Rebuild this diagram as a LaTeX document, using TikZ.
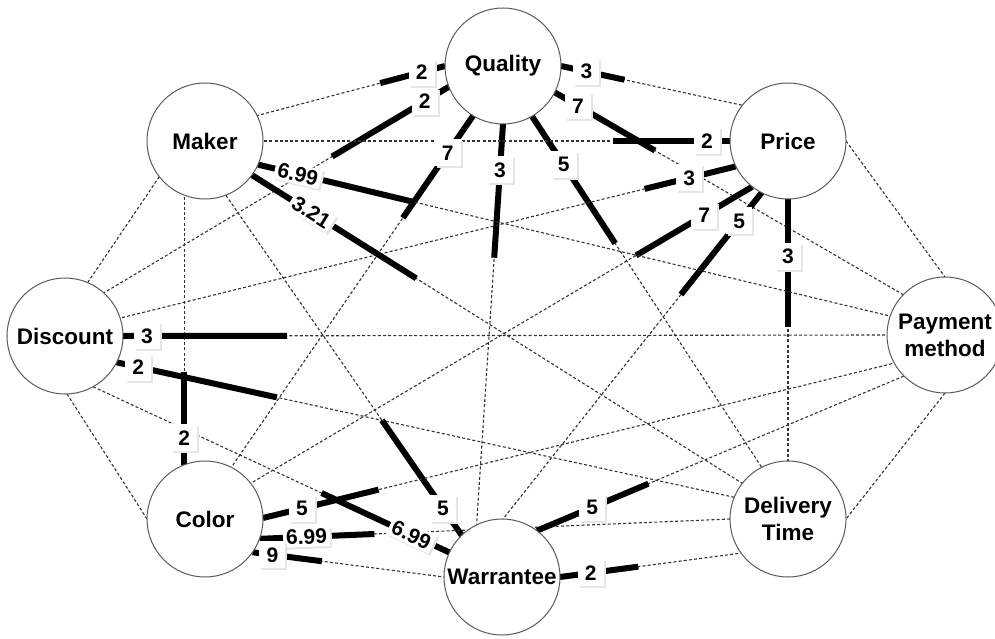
\documentclass[tikz,border=0pt]{standalone}
\usepackage{fontspec}
\setmainfont{Liberation Sans}
\usetikzlibrary{calc,shadows,backgrounds}
\tikzset{
  vtx/.style={circle, draw=black!65, line width=1pt, fill=white, minimum size=116pt,
    inner sep=0pt, outer sep=0pt, align=center,
    font=\fontsize{22.5}{27}\selectfont\bfseries},
  dashline/.style={draw=black!80, line width=1.1pt, dash pattern=on 3pt off 2.2pt},
  heavy/.style={draw=black, line width=6pt},
  lbl/.style={fill=white, font=\fontsize{21}{21}\selectfont\bfseries,
    inner xsep=5pt, inner ysep=2pt, minimum width=26pt, minimum height=27pt,
    drop shadow={shadow xshift=2pt, shadow yshift=-2pt, fill=black!10, opacity=1}},
  slbl/.style={lbl, inner xsep=3pt, inner ysep=0pt, minimum height=20pt},
}
\newcommand\plainedge[4]{%
  \begin{pgfonlayer}{background}\draw[dashline] (#1.#2) -- (#3.#4);\end{pgfonlayer}}
\newcommand\wtedge[7]{%
  \begin{pgfonlayer}{background}
    \draw[dashline] (#1.#2) -- (#3.#4);
    \draw[heavy] (#1.#2) -- ($(#1.#2)!#5pt!(#3.#4)$);
  \end{pgfonlayer}
  \node[lbl] at ($(#1.#2)!#6pt!(#3.#4)$) {#7};}
\newcommand\wtedgeS[7]{%
  \begin{pgfonlayer}{background}
    \draw[dashline] (#1.#2) -- (#3.#4);
    \draw[heavy] (#1.#2) -- ($(#1.#2)!#5pt!(#3.#4)$);
  \end{pgfonlayer}
  \path (#1.#2) -- ($(#1.#2)!#6pt!(#3.#4)$) node[slbl, sloped, midway] {#7};}
\begin{document}
\begin{tikzpicture}[x=1pt, y=-1pt]
\useasboundingbox (0,0) rectangle (995,639);
\node[vtx] (qual)  at (503,66)  {Quality};
\node[vtx] (mak)   at (205,141) {Maker};
\node[vtx] (pri)   at (788,141) {Price};
\node[vtx] (pay)   at (945,335) {Payment\\method};
\node[vtx] (deliv) at (788,519) {Delivery\\Time};
\node[vtx] (warr)  at (502,577) {Warrantee};
\node[vtx] (col)   at (205,519) {Color};
\node[vtx] (disc)  at (65,336)  {Discount};
% unweighted
\plainedge{mak}{218}{disc}{67}
\plainedge{pri}{0}{pay}{90}
\plainedge{disc}{272}{col}{180}
\plainedge{pay}{270}{deliv}{0}
% weighted: near node, angle, far node, angle, thick length, label distance, label
\wtedge{qual}{180}{mak}{26}{67}{24}{2}
\wtedge{qual}{201}{disc}{48}{136}{28}{2}
\wtedge{qual}{239}{col}{63}{124}{45}{7}
\wtedge{qual}{270}{warr}{116}{134}{46}{3}
\wtedge{qual}{300}{deliv}{117}{152}{58}{5}
\wtedge{qual}{333}{pay}{136}{116}{27}{7}
\wtedge{qual}{0}{pri}{142}{65}{26}{3}
\wtedge{pri}{180}{mak}{0}{117}{23}{2}
\wtedge{pri}{206}{disc}{18}{94}{48}{3}
\wtedge{pri}{232}{col}{38}{135}{56}{7}
\wtedge{pri}{243}{warr}{89}{130}{36}{5}
\wtedge{pri}{270}{deliv}{90}{128}{57}{3}
\wtedgeS{mak}{336}{pay}{161}{161}{82}{6.99}
\wtedgeS{mak}{324}{deliv}{142}{194}{140}{3.21}
\wtedge{warr}{134}{mak}{291}{140}{33}{5}
\wtedge{col}{111}{mak}{249}{93}{27}{2}
\wtedge{disc}{0}{pay}{180}{164}{24}{3}
\wtedge{disc}{333}{deliv}{158}{164}{22}{2}
\wtedgeS{warr}{155}{disc}{299}{141}{84}{6.99}
\wtedge{col}{1}{pay}{209}{119}{40}{5}
\wtedgeS{col}{340}{deliv}{180}{115}{94}{6.99}
\wtedge{col}{325}{warr}{180}{70}{20}{9}
\wtedge{warr}{53}{pay}{225}{121}{60}{5}
\wtedge{warr}{0}{deliv}{216}{79}{31}{2}
\end{tikzpicture}
\end{document}
